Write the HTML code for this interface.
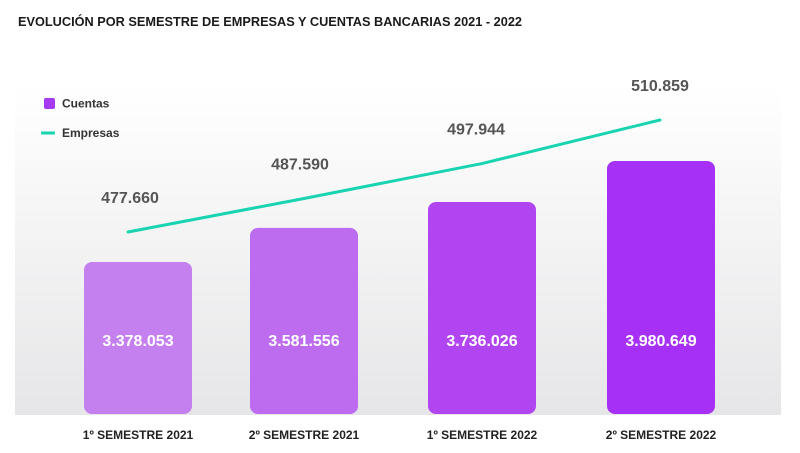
<!DOCTYPE html>
<html><head><meta charset="utf-8">
<style>
html,body{margin:0;padding:0;background:#fff;width:800px;height:453px;overflow:hidden}
svg{display:block;font-family:"Liberation Sans",sans-serif}
</style></head>
<body>
<svg id="chart" width="800" height="453" viewBox="0 0 800 453">
<defs>
<linearGradient id="bg" x1="0" y1="0" x2="0" y2="1">
<stop offset="0" stop-color="#ffffff"/><stop offset="1" stop-color="#e6e6e8"/>
</linearGradient>
</defs>
<text x="18" y="26" font-size="12.5" font-weight="bold" fill="#1a1a1a" textLength="504" lengthAdjust="spacingAndGlyphs">EVOLUCIÓN POR SEMESTRE DE EMPRESAS Y CUENTAS BANCARIAS 2021 - 2022</text>
<rect x="15" y="85" width="766" height="330" fill="url(#bg)"/>
<g id="bars"></g>
<g id="line"></g>
<g id="xlabels"></g>
<g>
<rect x="44" y="98" width="11" height="11" rx="2" fill="#a63af0"/>
<text x="62" y="107.5" font-size="12" font-weight="bold" fill="#333">Cuentas</text>
<line x1="41" y1="133" x2="55" y2="133" stroke="#19d4b0" stroke-width="3"/>
<text x="62" y="137" font-size="12" font-weight="bold" fill="#333">Empresas</text>
</g>
</svg>
<script>
const categories = ["1º SEMESTRE 2021","2º SEMESTRE 2021","1º SEMESTRE 2022","2º SEMESTRE 2022"];
const cuentas = [3378053, 3581556, 3736026, 3980649];
const cuentasLabels = ["3.378.053","3.581.556","3.736.026","3.980.649"];
const empresas = [477660, 487590, 497944, 510859];
const empresasLabels = ["477.660","487.590","497.944","510.859"];

const NS="http://www.w3.org/2000/svg";
const barColors=["#c580f0","#bd6cf0","#b145f2","#a630f5"];
const centers=[138,304,482,661];
function xPos(i){return centers[i];}
function yBar(v){return 414-(v-2471000)/5966;}
function yLine(v){return 232-(v-477660)/296.4;}
function mk(tag,attrs,parent){const e=document.createElementNS(NS,tag);for(const k in attrs)e.setAttribute(k,attrs[k]);parent.appendChild(e);return e;}
const gb=document.getElementById('bars'),gl=document.getElementById('line'),gx=document.getElementById('xlabels');
cuentas.forEach((v,i)=>{
  const top=yBar(v);
  const r=mk('rect',{x:xPos(i)-54,y:top,width:108,height:414-top,rx:8,fill:barColors[i%4]},gb);
  
  
  const t=mk('text',{x:xPos(i),y:346,'font-size':16,'font-weight':'bold',fill:'#fff','text-anchor':'middle'},gb);
  t.textContent=cuentasLabels[i];
  
  
  const c=mk('text',{x:xPos(i),y:439,'font-size':12,'font-weight':'bold',fill:'#222','text-anchor':'middle'},gx);
  c.textContent=categories[i];
  
  
});
const lx=i=>i===0?128:(i===empresas.length-1?660:xPos(i));
const pts=empresas.map((v,i)=>lx(i)+','+yLine(v)).join(' ');
const pl=mk('polyline',{points:pts,fill:'none',stroke:'#19d4b0','stroke-width':3,'stroke-linecap':'round'},gl);


const lblX=[130,300,476,660];
empresas.forEach((v,i)=>{
  const t=mk('text',{x:lblX[i],y:yLine(v)-29,'font-size':16,'font-weight':'bold',fill:'#555','text-anchor':'middle'},gl);
  t.textContent=empresasLabels[i];
  
  
});
</script>
</body></html>
